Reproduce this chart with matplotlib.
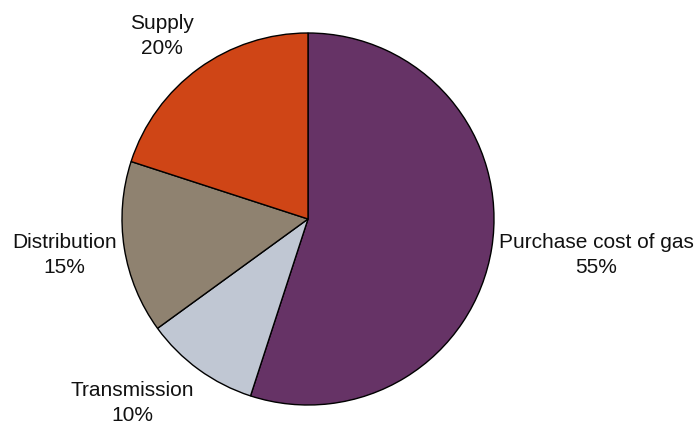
import numpy as np
import matplotlib.pyplot as plt

plt.rcParams['font.family'] = ['Liberation Sans', 'DejaVu Sans']

# cost components of a gas bill
components = ['Purchase cost of gas', 'Transmission', 'Distribution', 'Supply']
shares = [55, 10, 15, 20]
colors = ['#663366', '#C0C7D3', '#8F8270', '#CF4516']

fig = plt.figure(figsize=(7, 4.25), dpi=100)
ax = fig.add_axes([0, 0, 1, 1])

labels = [f'{c}\n{s}%' for c, s in zip(components, shares)]
wedges, texts = ax.pie(shares, labels=labels, colors=colors, startangle=90, counterclock=False,
                       center=(308, 206), radius=186, labeldistance=1.04,
                       wedgeprops={'edgecolor': 'black', 'linewidth': 1},
                       textprops={'fontsize': 15, 'multialignment': 'center', 'linespacing': 1.4,
                                  'color': '#111111'},
                       frame=False)

# align each label away from the pie
for w, t in zip(wedges, texts):
    ang = np.deg2rad((w.theta1 + w.theta2) / 2)
    t.set_ha('left' if np.cos(ang) > 0 else 'right')
    s = np.sin(ang)
    x, y = t.get_position()
    if s > 0.5:
        t.set_va('bottom')
        t.set_position((x, y + 5))
    else:
        if s < -0.5:
            t.set_va('top')
        t.set_position((x, y - 6))

ax.set_xlim(0, 700)
ax.set_ylim(0, 425)
ax.set_aspect('equal')
ax.axis('off')

fig.savefig('out.png', dpi=100)
